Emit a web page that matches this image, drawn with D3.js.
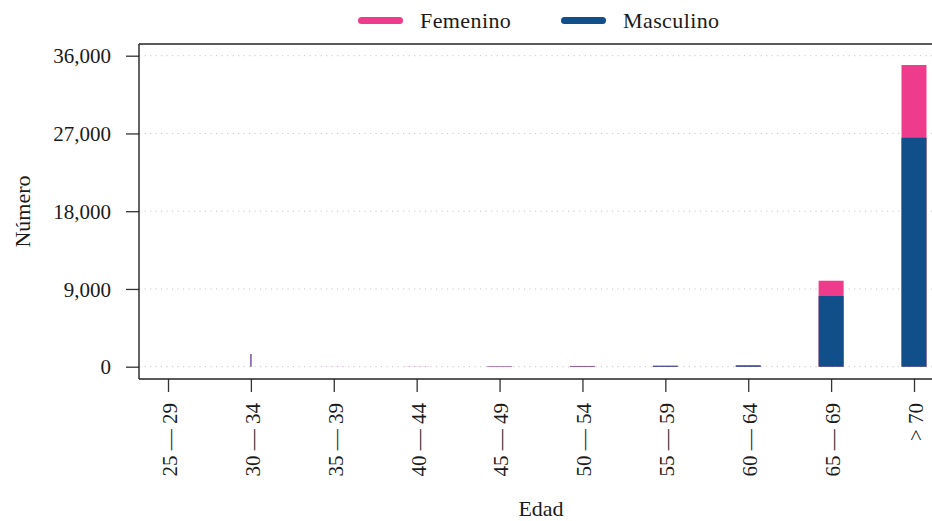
<!DOCTYPE html>
<html>
<head>
<meta charset="utf-8">
<script src="https://cdn.jsdelivr.net/npm/d3@7"></script>
<style>
  html, body { margin: 0; padding: 0; background: #fff; }
  svg { display: block; }
  text { font-family: "Liberation Serif", "DejaVu Serif", serif; fill: #1a1a1a; }
</style>
</head>
<body>
<svg id="chart" width="932" height="521"></svg>
<script>
// ---- data ----
const categories = ["25 — 29", "30 — 34", "35 — 39", "40 — 44", "45 — 49",
                    "50 — 54", "55 — 59", "60 — 64", "65 — 69", "> 70"];
const masculino = [0, 700, 3, 6, 30, 50, 80, 120, 8180, 26500];
const femenino  = [0, 770, 3, 6, 30, 40, 60, 60, 1770, 8420];
const yTicks = [0, 9000, 18000, 27000, 36000];
const seriesNames = ["Femenino", "Masculino"];

// ---- layout ----
const W = 932, H = 521;
const plot = { left: 139, right: 943, top: 44, bottom: 379 };
const colors = { Femenino: "#ef3b8c", Masculino: "#114f8b" };

const svg = d3.select("#chart");

const x = d3.scalePoint()
  .domain(categories)
  .range([plot.left + 29, plot.right - 29]);

const y = d3.scaleLinear()
  .domain([0, 36000])
  .range([366.7, 55.7]);

const barW = 25;

// gridlines
svg.append("g")
  .selectAll("line")
  .data(yTicks)
  .join("line")
  .attr("x1", plot.left)
  .attr("x2", W)
  .attr("y1", d => y(d))
  .attr("y2", d => y(d))
  .attr("stroke", "#c8c8c8")
  .attr("stroke-width", 1)
  .attr("stroke-dasharray", "1.2,4.3");

// bars: total (femenino stacked on top) behind, masculino in front
const rows = categories.map((c, i) => ({
  cat: c, m: masculino[i], f: femenino[i], total: masculino[i] + femenino[i]
}));

const gBars = svg.append("g");
rows.forEach(r => {
  if (r.total <= 0) return;
  // the 30 — 34 bar appears as a hairline in the reference
  const thin = r.cat === "30 — 34";
  const w = thin ? 1.8 : barW;
  const cx = x(r.cat);
  gBars.append("rect")
    .attr("x", cx - w / 2)
    .attr("width", w)
    .attr("y", y(r.total))
    .attr("height", y(0) - y(r.total))
    .attr("fill", thin ? "#8a6fb0" : colors.Femenino);
  if (!thin) {
    gBars.append("rect")
      .attr("x", cx - w / 2)
      .attr("width", w)
      .attr("y", y(r.m))
      .attr("height", y(0) - y(r.m))
      .attr("fill", colors.Masculino);
  }
});

// y axis
const yAxis = d3.axisLeft(y)
  .tickValues(yTicks)
  .tickFormat(d3.format(","))
  .tickSize(13)
  .tickPadding(15)
  .tickSizeOuter(0);
const gy = svg.append("g")
  .attr("transform", `translate(${plot.left},0)`)
  .call(yAxis);
gy.select(".domain").remove();
gy.selectAll(".tick line").attr("stroke", "#333").attr("stroke-width", 1.3);
gy.selectAll(".tick text")
  .attr("font-size", 21)
  .attr("font-family", "Liberation Serif, serif")
  .attr("fill", "#1a1a1a")
  .attr("dy", "0.34em");

// x axis
const xAxis = d3.axisBottom(x)
  .tickSize(13)
  .tickSizeOuter(0);
const gx = svg.append("g")
  .attr("transform", `translate(0,${plot.bottom})`)
  .call(xAxis);
gx.select(".domain").remove();
gx.selectAll(".tick line").attr("stroke", "#333").attr("stroke-width", 1.3);
gx.selectAll(".tick text")
  .attr("font-size", 21)
  .attr("font-family", "Liberation Serif, serif")
  .attr("fill", "#1a1a1a")
  .attr("text-anchor", "end")
  .attr("transform", "translate(1,24) rotate(-90)")
  .attr("x", 0)
  .attr("y", 0)
  .attr("dy", "0.35em");

// frame
const frame = svg.append("g").attr("stroke", "#222").attr("stroke-width", 1.4).attr("fill", "none");
frame.append("line").attr("x1", plot.left).attr("x2", plot.left).attr("y1", plot.top).attr("y2", plot.bottom);
frame.append("line").attr("x1", plot.left).attr("x2", W).attr("y1", plot.bottom).attr("y2", plot.bottom);
frame.append("line").attr("x1", plot.left).attr("x2", W).attr("y1", plot.top).attr("y2", plot.top);

// axis titles
svg.append("text")
  .attr("transform", `translate(22,${(plot.top + plot.bottom) / 2}) rotate(-90)`)
  .attr("text-anchor", "middle")
  .attr("dy", "0.35em")
  .attr("font-size", 22)
  .text("Número");

svg.append("text")
  .attr("x", (plot.left + plot.right) / 2)
  .attr("y", 516)
  .attr("text-anchor", "middle")
  .attr("font-size", 22)
  .text("Edad");

// legend
const legendItems = [
  { name: seriesNames[0], x: 358 },
  { name: seriesNames[1], x: 561 }
];
const lg = svg.append("g");
legendItems.forEach(it => {
  lg.append("line")
    .attr("x1", it.x + 3.5).attr("x2", it.x + 45 - 3.5)
    .attr("y1", 20.5).attr("y2", 20.5)
    .attr("stroke", colors[it.name])
    .attr("stroke-width", 7)
    .attr("stroke-linecap", "round");
  lg.append("text")
    .attr("x", it.x + 62)
    .attr("y", 28)
    .attr("font-size", 22)
    .attr("letter-spacing", 0.4)
    .text(it.name);
});
</script>
</body>
</html>
